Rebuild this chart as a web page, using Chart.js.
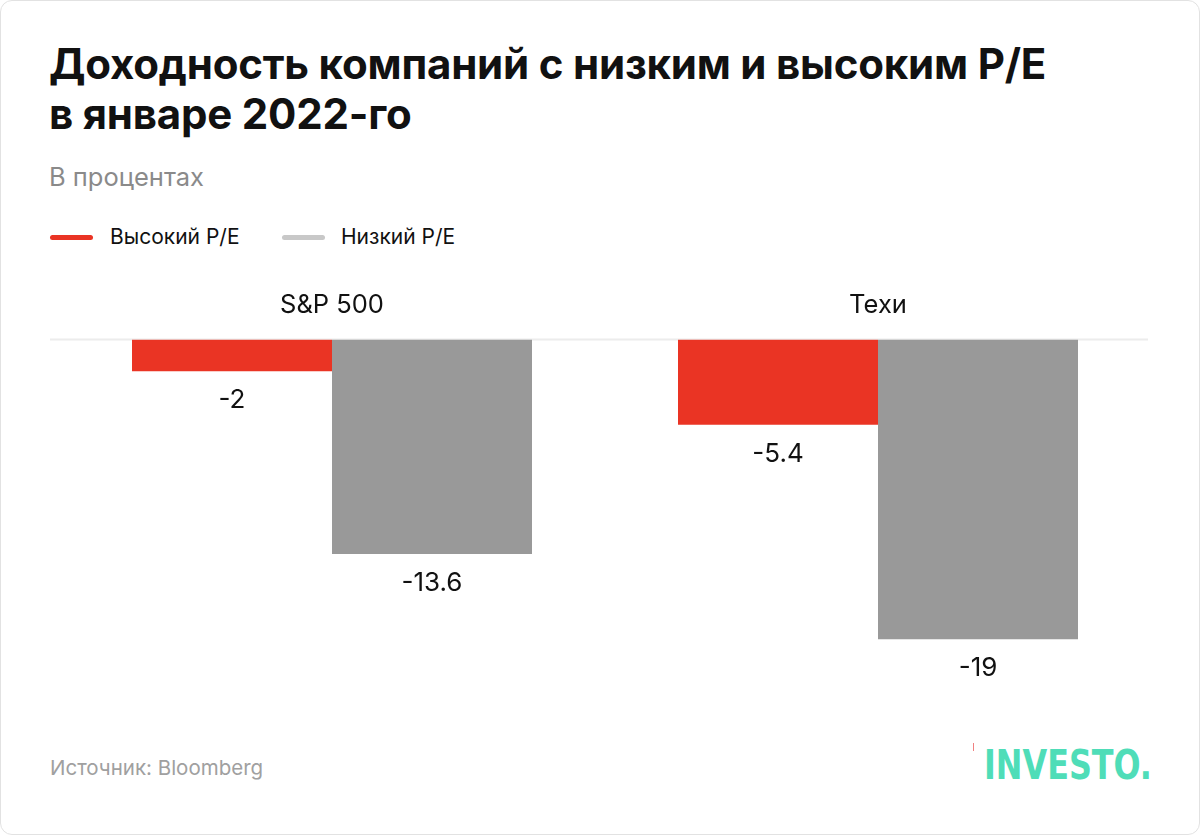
<!DOCTYPE html>
<html>
<head>
<meta charset="utf-8">
<script src="https://cdn.jsdelivr.net/npm/chart.js@4.4.1/dist/chart.umd.min.js"></script>
<style>
  html, body { margin: 0; padding: 0; background: #fff; }
  body { width: 1200px; height: 835px; position: relative; overflow: hidden; font-family: Inter, Roboto, "Noto Sans", sans-serif; }
  .frame { position: absolute; left: 0; top: 0; width: 1198px; height: 833px; border: 1px solid #e2e2e2; border-radius: 12px; }
  .title { position: absolute; left: 49px; top: 39px; font-size: 42px; font-weight: 700; line-height: 50px; color: #111; letter-spacing: -0.2px; white-space: nowrap; }
  .subtitle { position: absolute; left: 49px; top: 161px; font-size: 25.5px; color: #8a8a8a; }
  .legend { position: absolute; top: 223px; left: 50px; font-size: 21px; color: #111; }
  .legend .item { position: absolute; top: 0; white-space: nowrap; }
  .legend .sw { position: absolute; top: 12px; width: 43px; height: 5px; border-radius: 3px; }
  .legend .lbl { position: absolute; top: 0; line-height: 28px; }
  .source { position: absolute; left: 50px; top: 755px; font-size: 20.5px; color: #a0a0a0; }
  .logo { position: absolute; left: 984px; top: 745px; line-height: 40px; font-family: "DejaVu Sans Condensed", "DejaVu Sans"; font-weight: 700; font-size: 40px; color: #4fddb8; transform: scaleX(0.885); transform-origin: left top; white-space: nowrap; }
  .tick { position: absolute; left: 973px; top: 743px; width: 1px; height: 8px; background: #f08080; }
  canvas { position: absolute; left: 0; top: 0; }
</style>
</head>
<body>
<div class="frame"></div>
<div class="title">Доходность компаний с низким и высоким P/E<br>в январе 2022-го</div>
<div class="subtitle">В процентах</div>
<div class="legend">
  <div class="item" style="left:0"><div class="sw" style="left:0;background:#ea3424"></div><div class="lbl" style="left:60px">Высокий P/E</div></div>
  <div class="item" style="left:232px"><div class="sw" style="left:0;background:#c8c8c8"></div><div class="lbl" style="left:59px">Низкий P/E</div></div>
</div>
<div class="source">Источник: Bloomberg</div>
<div class="tick"></div>
<div class="logo">INVESTO.</div>
<canvas id="c" width="1200" height="835"></canvas>
<script>
const categories = ["S&P 500", "Техи"];
const seriesNames = ["Высокий P/E", "Низкий P/E"];
const highPE = [-2, -5.4];
const lowPE = [-13.6, -19];
const seriesColors = ["#ea3424", "#999999"];
const FONT = 'Inter, Roboto, "Noto Sans", sans-serif';

const zeroLine = {
  id: 'zeroLine',
  beforeDatasetsDraw(chart) {
    const ctx = chart.ctx;
    const y = chart.scales.y.getPixelForValue(0);
    ctx.save();
    ctx.strokeStyle = '#ececec';
    ctx.lineWidth = 2;
    ctx.beginPath();
    ctx.moveTo(50, y);
    ctx.lineTo(1148, y);
    ctx.stroke();
    ctx.restore();
  }
};

const valueLabels = {
  id: 'valueLabels',
  afterDatasetsDraw(chart) {
    const ctx = chart.ctx;
    ctx.save();
    ctx.font = '26px ' + FONT;
    ctx.fillStyle = '#111';
    ctx.textAlign = 'center';
    ctx.textBaseline = 'middle';
    chart.data.datasets.forEach((ds, i) => {
      const meta = chart.getDatasetMeta(i);
      meta.data.forEach((bar, j) => {
        const v = ds.data[j];
        const y = chart.scales.y.getPixelForValue(v);
        ctx.fillText(String(v), bar.x, y + 29);
      });
    });
    ctx.restore();
  }
};

new Chart(document.getElementById('c'), {
  type: 'bar',
  data: {
    labels: categories,
    datasets: [
      { label: seriesNames[0], data: highPE, backgroundColor: seriesColors[0], barPercentage: 1, categoryPercentage: 0.7326 },
      { label: seriesNames[1], data: lowPE, backgroundColor: seriesColors[1], barPercentage: 1, categoryPercentage: 0.7326 }
    ]
  },
  options: {
    responsive: false,
    animation: false,
    layout: { padding: { left: 59, right: 49, top: 279, bottom: 180 } },
    plugins: { legend: { display: false }, tooltip: { enabled: false } },
    scales: {
      x: {
        position: 'top',
        grid: { display: false },
        border: { display: false },
        ticks: { color: '#111', font: { size: 25.5, family: FONT }, padding: 11 }
      },
      y: {
        display: false,
        min: -20,
        max: 0
      }
    }
  },
  plugins: [zeroLine, valueLabels]
});
</script>
</body>
</html>
